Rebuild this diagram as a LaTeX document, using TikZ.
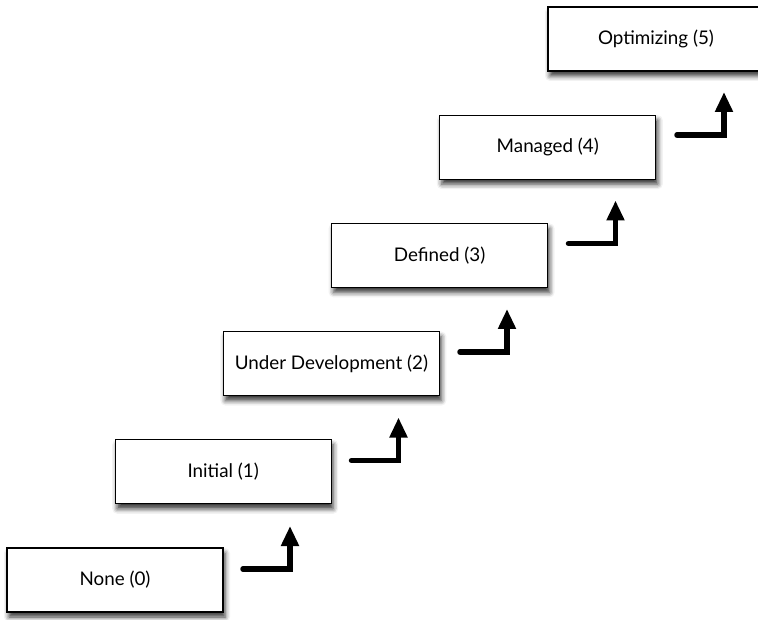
\documentclass[tikz,border=0pt]{standalone}
\usepackage{fontspec}
\setmainfont{Lato}
\usetikzlibrary{arrows.meta,shadows.blur}
\begin{document}
\begin{tikzpicture}[x=1pt,y=-1pt,
  level/.style={draw=black, line width=1.1pt, fill=white, minimum width=216pt, minimum height=64pt,
    inner sep=0pt, font=\fontsize{18.8}{22}\selectfont,
    blur shadow={shadow xshift=2pt, shadow yshift=-5pt, shadow blur radius=5pt, shadow opacity=80}},
  stepup/.style={line width=5.5pt, line cap=round, -{Triangle[length=20pt,width=17pt]}}]
\useasboundingbox (0,0) rectangle (758,620);
\node[level] (n0) at (115,580) {None (0)};
\node[level] (n1) at (223.2,471.8) {Initial (1)};
\node[level] (n2) at (331.4,363.6) {Under Development (2)};
\node[level] (n3) at (439.6,255.4) {Defined (3)};
\node[level] (n4) at (547.8,147.2) {Managed (4)};
\node[level] (n5) at (656,39) {Optimizing (5)};
\foreach \i in {0,...,4}{
  \coordinate (s\i) at (243+108.5*\i, 569-108.5*\i);
  \coordinate (t\i) at (290+108.5*\i, 526-108.5*\i);
  \draw[stepup] (s\i) -| (t\i);
}
\end{tikzpicture}
\end{document}
